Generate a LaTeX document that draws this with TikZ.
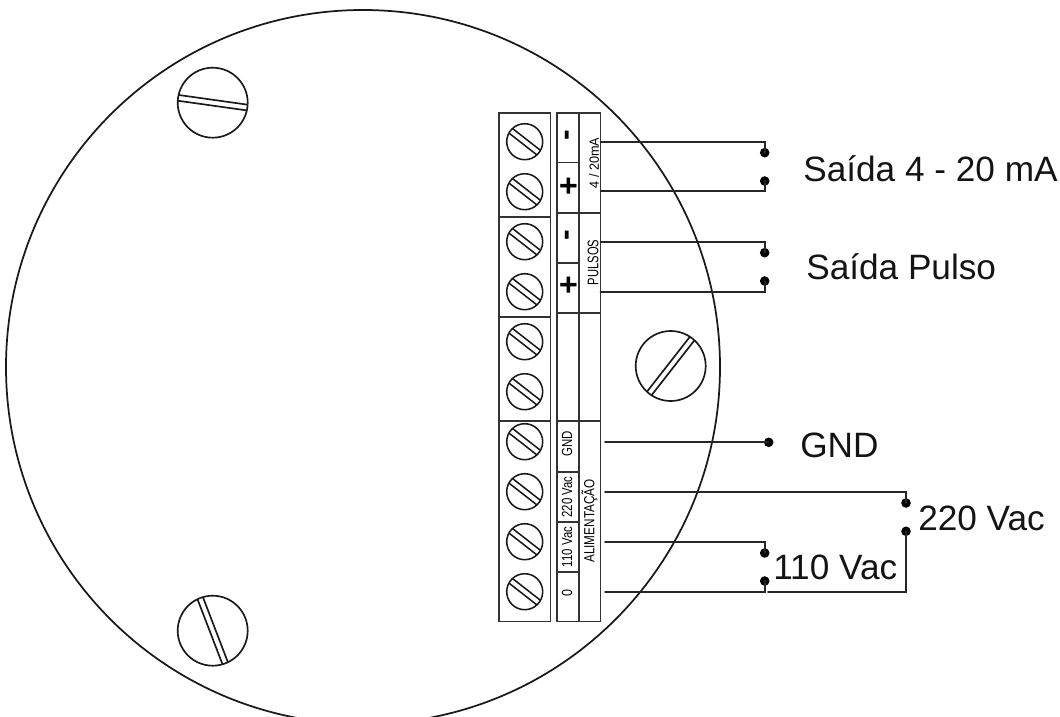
\documentclass[tikz,border=0pt]{standalone}
\usepackage{fontspec}
\setmainfont{Liberation Sans}
\newcommand{\tinylabel}[3]{\fontsize{#1pt}{#1pt}\selectfont\scalebox{#2}[1]{#3}}
\tikzset{
  x=0.75pt,y=-0.75pt,
  wire/.style={line width=1.4pt,black!85,line cap=round},
  frame/.style={line width=1.4pt,black!80},
  dot/.style={circle,fill=black,draw=none,inner sep=0pt,minimum size=7.2pt},
  biglabel/.style={anchor=base west,inner sep=0pt,font=\fontsize{26.4pt}{26.4pt}\selectfont,text=black!92},
  tiny/.style={rotate=90,inner sep=0pt,text=black},
  sign/.style={rotate=90,inner sep=0pt,font=\fontsize{24pt}{24pt}\bfseries\selectfont},
  pics/screwhead/.style n args={3}{code={
    \draw[line width=#3,black!90] (0,0) circle (#1);
    \begin{scope}[rotate=#2]
      \pgfmathsetmacro{\sl}{sqrt(#1*#1-2.9*2.9)}
      \draw[line width=#3,black!90] (-\sl,-2.9) -- (\sl,-2.9);
      \draw[line width=#3,black!90] (-\sl,2.9) -- (\sl,2.9);
    \end{scope}
  }}
}
\begin{document}
\begin{tikzpicture}
\useasboundingbox (0,0) rectangle (1060,717);
\clip (0,0) rectangle (1060,717);
% housing
\node[circle,draw=black!90,line width=1.3pt,minimum size=535.5pt,inner sep=0pt] (housing) at (363,367) {};
% big screws
\pic at (212.7,102.7) {screwhead={35}{-8}{1.25pt}};
\pic at (212.7,630.7) {screwhead={35}{-69}{1.25pt}};
\pic at (670.7,366) {screwhead={35}{52}{1.25pt}};
% terminal block
\draw[frame] (498.8,113) rectangle (550.5,621.5);
\foreach \yy in {216.7,316.7,421}{\draw[frame] (498.8,\yy) -- (550.5,\yy);}
\foreach \yy in {141.7,191.7,241.7,291.7,341.7,391.7,441.7,491.7,541.7,591.7}{
  \pic at (524.7,\yy) {screwhead={18}{-38}{1.15pt}};
}
% label strip
\draw[frame] (556.7,113) rectangle (600.5,621.5);
\draw[frame] (578.6,113) -- (578.6,621.5);
\foreach \yy in {212.7,312.7,421}{\draw[frame] (556.7,\yy) -- (600.5,\yy);}
\foreach \yy in {162.5,262.7,471.7,521.7,571.7}{\draw[frame] (556.7,\yy) -- (578.6,\yy);}
\node[sign] (s1) at (570,135.5) {-};
\node[sign] (s2) at (570,186) {+};
\node[sign] (s3) at (570,235.5) {-};
\node[sign] (s4) at (570,285.5) {+};
\node[tiny] (t1) at (594,163) {\tinylabel{10}{0.95}{4 / 20mA}};
\node[tiny] (t2) at (593,262.5) {\tinylabel{11.5}{0.73}{PULSOS}};
\node[tiny] (t3) at (567,444) {\tinylabel{11}{0.78}{GND}};
\node[tiny] (t4) at (567,497) {\tinylabel{11}{0.78}{220 Vac}};
\node[tiny] (t5) at (567,547) {\tinylabel{11}{0.78}{110 Vac}};
\node[tiny] (t6) at (567,593) {\tinylabel{11}{0.85}{0}};
\node[tiny] (t7) at (589.5,521) {\tinylabel{11}{0.8}{ALIMENTAÇÃO}};
% terminals of the wires
\coordinate (w1) at (600.5,142.3);
\coordinate (w2) at (600.5,191);
\coordinate (w3) at (600.5,241.7);
\coordinate (w4) at (600.5,291.7);
\coordinate (w5) at (605,442.3);
\coordinate (w6) at (605,492);
\coordinate (w7) at (605,541.7);
\coordinate (w8) at (605,592);
\coordinate (gapend) at (768,592);
% contact dots
\node[dot] (d1) at (764.7,152.7) {};
\node[dot] (d2) at (764.7,181) {};
\node[dot] (d3) at (764.7,252.7) {};
\node[dot] (d4) at (764.7,281) {};
\node[dot] (d5) at (768.7,442.3) {};
\node[dot] (d6) at (906,503) {};
\node[dot] (d7) at (906,531.3) {};
\node[dot] (d8) at (764.7,553) {};
\node[dot] (d9) at (764.7,581) {};
% wires
\draw[wire] (w1) -| (d1.center);
\draw[wire] (w2) -| (d2.center);
\draw[wire] (w3) -| (d3.center);
\draw[wire] (w4) -| (d4.center);
\draw[wire] (w5) -- (d5.center);
\draw[wire] (w6) -| (d6.center);
\draw[wire] (w7) -| (d8.center);
\draw[wire] (w8) -| (d9.center);
\draw[wire] (d7.center) |- (gapend);
% labels
\node[biglabel] (l1) at (803,181) {Saída 4 - 20 mA};
\node[biglabel] (l2) at (806,279) {Saída Pulso};
\node[biglabel] (l3) at (800,457) {GND};
\node[biglabel] (l4) at (918,530) {220 Vac};
\node[biglabel] (l5) at (773,579) {110 Vac};
\end{tikzpicture}
\end{document}
